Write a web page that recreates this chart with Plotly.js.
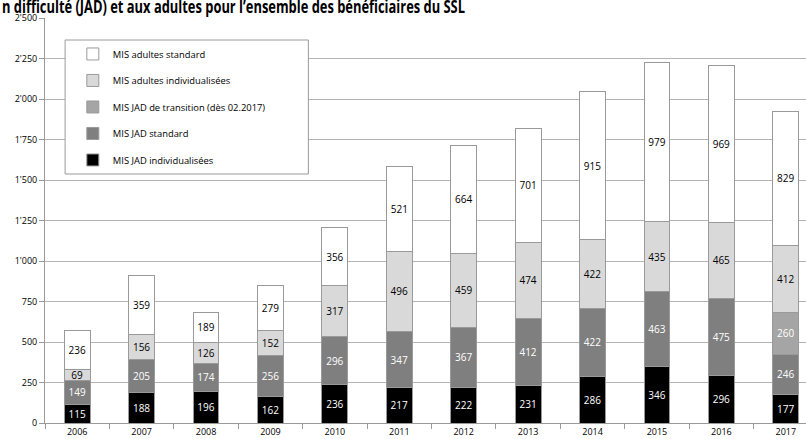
<!DOCTYPE html>
<html><head><meta charset="utf-8">
<script src="https://cdn.plot.ly/plotly-3.0.1.min.js"></script>
<style>html,body{margin:0;padding:0;overflow:hidden;background:#fff}</style>
</head><body>
<div id="chart" style="width:822px;height:439px"></div>
<script>
const years = ['2006','2007','2008','2009','2010','2011','2012','2013','2014','2015','2016','2017'];
const jadIndiv = [115,188,196,162,236,217,222,231,286,346,296,177];
const jadStandard = [149,205,174,256,296,347,367,412,422,463,475,246];
const jadTransition = [null,null,null,null,null,null,null,null,null,null,null,260];
const adultesIndiv = [69,156,126,152,317,496,459,474,422,435,465,412];
const adultesStandard = [236,359,189,279,356,521,664,701,915,979,969,829];
const seriesNames = ['MIS JAD individualisées','MIS JAD standard','MIS JAD de transition (dès 02.2017)','MIS adultes individualisées','MIS adultes standard'];
const titleText = 'n difficulté (JAD) et aux adultes pour l’ensemble des bénéficiaires du SSL';

const series = [jadIndiv, jadStandard, jadTransition, adultesIndiv, adultesStandard];
const fills = ['#000000','#7f7f7f','#a5a5a5','#d9d9d9','#ffffff'];
const textCols = ['#ffffff','#ffffff','#ffffff','#000000','#000000'];
const font = '"Open Sans", "Liberation Sans", sans-serif';

const traces = series.map((vals, i) => ({
  type: 'bar',
  name: seriesNames[i],
  x: years,
  y: vals,
  width: 0.4,
  legendgroup: 'g' + i,
  legendrank: 10 - i,
  marker: {color: fills[i], line: {color: '#9a9a9a', width: 1}},
  text: vals.map(v => v == null ? '' : String(v)),
  textposition: 'inside',
  insidetextanchor: 'middle',
  textangle: 0,
  constraintext: 'none',
  textfont: {color: textCols[i], size: 10, family: font},
  hoverinfo: 'skip'
}));

const layout = {
  width: 822, height: 439,
  margin: {l: 45, r: 4, t: 18, b: 16},
  barmode: 'stack',
  separators: ".'",
  paper_bgcolor: '#fff', plot_bgcolor: '#fff',
  font: {family: font, size: 9, color: '#000'},
  uniformtext: {mode: 'show', minsize: 10},
  showlegend: true,
  legend: {
    x: 0.036, y: 0.947, xanchor: 'left', yanchor: 'top',
    bgcolor: 'rgba(0,0,0,0)', borderwidth: 0,
    traceorder: 'grouped', tracegroupgap: 7.5,
    font: {size: 9.4, family: font, color: '#000'}
  },
  xaxis: {
    type: 'category',
    showline: true, linecolor: '#9a9a9a', linewidth: 1,
    ticks: 'outside', tickson: 'boundaries', ticklen: 5, tickcolor: '#9a9a9a',
    tickfont: {size: 9}, showgrid: false, fixedrange: true
  },
  yaxis: {
    range: [0, 2500], tick0: 0, dtick: 250, tickformat: ',d',
    showline: true, linecolor: '#9a9a9a', linewidth: 1,
    ticks: 'outside', ticklen: 5, tickcolor: '#9a9a9a',
    gridcolor: '#b3b3b3', gridwidth: 1,
    tickfont: {size: 9}, zeroline: false, fixedrange: true
  },
  shapes: [{
    type: 'rect', xref: 'paper', yref: 'paper',
    x0: 20/769, x1: 262/769, y0: 1 - 156/405, y1: 1 - 22/405,
    line: {color: '#9a9a9a', width: 1}, fillcolor: '#ffffff', layer: 'above'
  }],
  annotations: [{
    text: '<b>' + titleText + '</b>',
    xref: 'paper', yref: 'paper', x: -45/769, y: 0.996,
    xanchor: 'left', yanchor: 'bottom', align: 'left', showarrow: false,
    font: {size: 17, family: font, color: '#000'}
  }]
};

Plotly.newPlot('chart', traces, layout, {staticPlot: true, displayModeBar: false}).then(() => {
  const t = document.querySelector('#chart .annotation-text');
  if (t) {
    t.setAttribute('textLength', '463');
    t.setAttribute('lengthAdjust', 'spacingAndGlyphs');
  }
});
</script>
</body></html>
